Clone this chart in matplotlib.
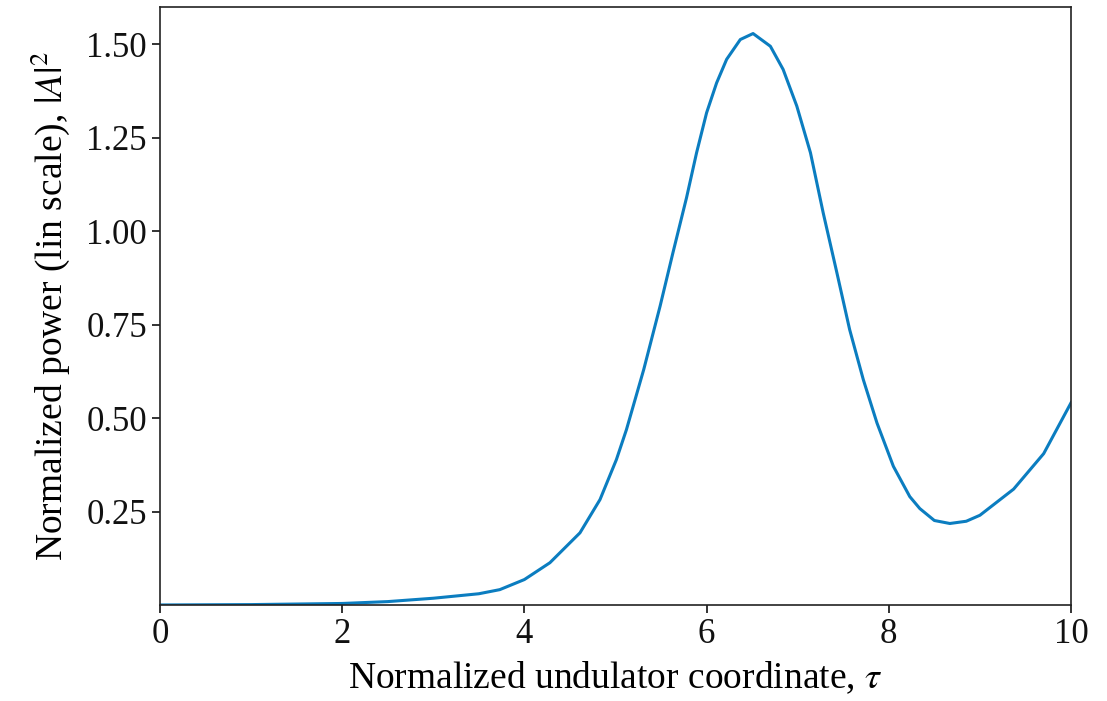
import matplotlib
matplotlib.use("Agg")
import matplotlib.pyplot as plt

# values
tau = [0, 1, 2, 2.5, 3, 3.5, 3.73, 4.0, 4.28, 4.61, 4.83, 5.01, 5.12, 5.31,
       5.49, 5.63, 5.78, 5.89, 6.00, 6.11, 6.22, 6.37, 6.51, 6.70, 6.84, 6.99,
       7.14, 7.28, 7.43, 7.57, 7.72, 7.87, 8.05, 8.23, 8.34, 8.50, 8.67, 8.85,
       9.00, 9.37, 9.70, 10.0]
power = [0.0, 0.001, 0.004, 0.009, 0.018, 0.030, 0.041, 0.068, 0.113, 0.193,
         0.282, 0.389, 0.469, 0.630, 0.800, 0.942, 1.090, 1.210, 1.317, 1.397,
         1.460, 1.513, 1.529, 1.495, 1.433, 1.335, 1.210, 1.049, 0.889, 0.737,
         0.603, 0.487, 0.371, 0.290, 0.258, 0.226, 0.218, 0.224, 0.240, 0.310,
         0.405, 0.541]

xticks = [0, 2, 4, 6, 8, 10]
yticks = [0.25, 0.50, 0.75, 1.00, 1.25, 1.50]

plt.rcParams["font.family"] = ["Liberation Serif", "DejaVu Serif"]
plt.rcParams["mathtext.fontset"] = "stix"

fig = plt.figure(figsize=(11.07, 7.01), dpi=100)
ax = fig.add_axes([0.1445, 0.137, 0.823, 0.853])

ax.plot(tau, power, color="#0b7dc0", linewidth=2.2, solid_joinstyle="round")

ax.set_xlim(0, 10)
ax.set_ylim(0, 1.6)
ax.set_xticks(xticks)
ax.set_yticks(yticks)
ax.set_yticklabels([f"{v:.2f}" for v in yticks])
ax.tick_params(labelsize=25, length=6, width=1.2, colors="#111111")
for s in ax.spines.values():
    s.set_linewidth(1.2)
    s.set_color("#222222")

ax.set_xlabel(r"Normalized undulator coordinate, $\tau$", fontsize=27, labelpad=6)
ax.set_ylabel(r"Normalized power (lin scale), $|A|^2$", fontsize=27, labelpad=10)

fig.savefig("out.png", dpi=100)
